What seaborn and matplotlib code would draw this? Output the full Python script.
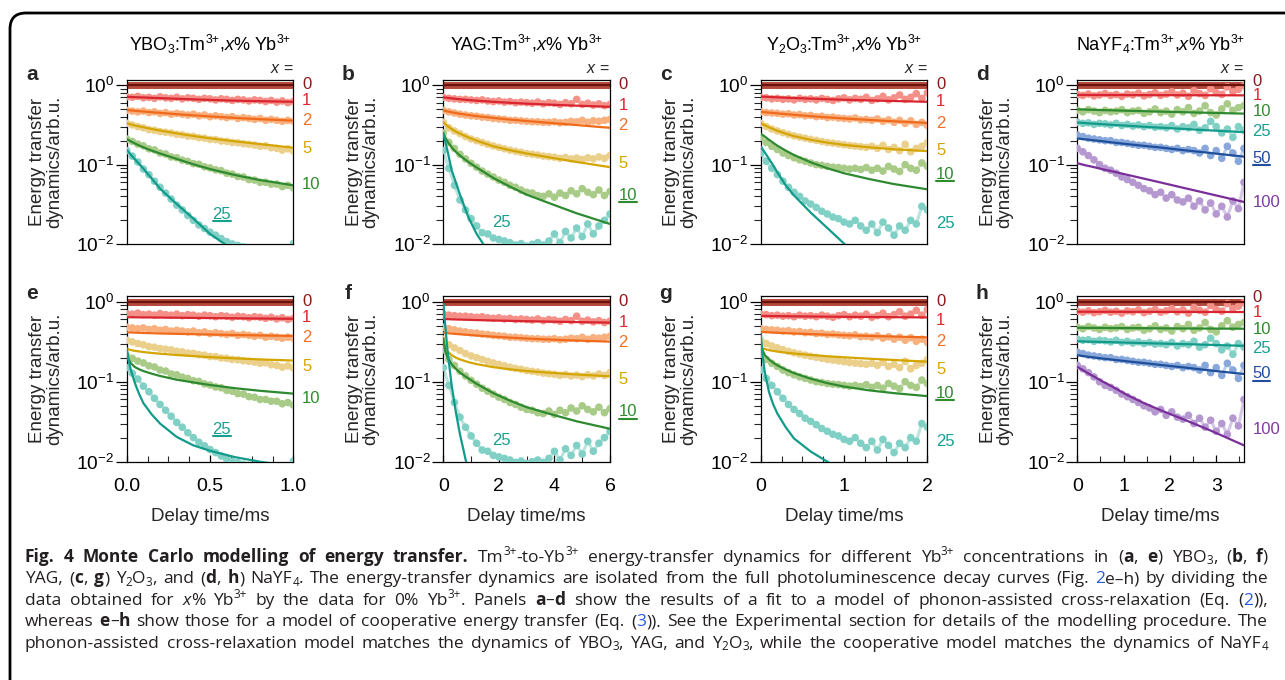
import numpy as np
import pandas as pd
import matplotlib
matplotlib.use("Agg")
import matplotlib.pyplot as plt
import seaborn as sns
from matplotlib.transforms import IdentityTransform, blended_transform_factory
from matplotlib.patches import FancyBboxPatch
from matplotlib.lines import Line2D
from matplotlib.ticker import LogLocator, NullFormatter, MultipleLocator, FixedLocator, FixedFormatter

# ----------------------------------------------------------------- data
MAT_KEYS = ["YBO3", "YAG", "Y2O3", "NaYF4"]
TITLES = ["YBO_{3}:Tm^{3+},*x*% Yb^{3+}", "YAG:Tm^{3+},*x*% Yb^{3+}",
          "Y_{2}O_{3}:Tm^{3+},*x*% Yb^{3+}", "NaYF_{4}:Tm^{3+},*x*% Yb^{3+}"]
T_MAX = [1.0, 6.0, 2.0, 3.6]
CONC = {"YBO3": [1, 2, 5, 10, 25], "YAG": [1, 2, 5, 10, 25],
        "Y2O3": [1, 2, 5, 10, 25], "NaYF4": [1, 10, 25, 50, 100]}
ZERO_LEVEL = 1.0
N_DATA = 31

DATA = {
    "YBO3": {
        1: [0.71, 0.70, 0.72, 0.69, 0.70, 0.68, 0.71, 0.69, 0.68, 0.70, 0.67, 0.69, 0.68, 0.66, 0.68, 0.67, 0.65, 0.67, 0.66, 0.64, 0.66, 0.65, 0.63, 0.65, 0.64, 0.62, 0.64, 0.61, 0.63, 0.60, 0.62],
        2: [0.48, 0.47, 0.46, 0.47, 0.45, 0.46, 0.44, 0.45, 0.43, 0.44, 0.43, 0.42, 0.43, 0.41, 0.42, 0.40, 0.41, 0.40, 0.39, 0.40, 0.38, 0.39, 0.38, 0.37, 0.38, 0.36, 0.37, 0.36, 0.35, 0.36, 0.35],
        5: [0.33, 0.315, 0.30, 0.29, 0.275, 0.27, 0.26, 0.255, 0.25, 0.24, 0.237, 0.228, 0.226, 0.218, 0.215, 0.207, 0.206, 0.198, 0.196, 0.19, 0.188, 0.183, 0.18, 0.176, 0.17, 0.172, 0.163, 0.16, 0.152, 0.158, 0.148],
        10: [0.21, 0.196, 0.181, 0.172, 0.158, 0.153, 0.14, 0.136, 0.125, 0.122, 0.114, 0.11, 0.103, 0.101, 0.094, 0.091, 0.086, 0.084, 0.078, 0.076, 0.071, 0.07, 0.065, 0.064, 0.06, 0.06, 0.057, 0.057, 0.053, 0.055, 0.051],
        25: [0.150, 0.128, 0.108, 0.088, 0.075, 0.062, 0.052, 0.044, 0.037, 0.031, 0.027, 0.023, 0.020, 0.0175, 0.0158, 0.0142, 0.013, 0.0118, 0.0108, 0.0101, 0.0097, 0.0093, 0.009, 0.0088, 0.0086, 0.0084, 0.0083, 0.0082, 0.008, 0.0085, 0.0102],
    },
    "YAG": {
        1: [0.70, 0.68, 0.67, 0.66, 0.66, 0.65, 0.64, 0.65, 0.63, 0.62, 0.63, 0.61, 0.62, 0.60, 0.61, 0.60, 0.59, 0.61, 0.58, 0.60, 0.59, 0.57, 0.60, 0.58, 0.66, 0.57, 0.59, 0.56, 0.58, 0.55, 0.57],
        2: [0.48, 0.46, 0.445, 0.43, 0.42, 0.41, 0.405, 0.395, 0.39, 0.38, 0.375, 0.37, 0.36, 0.36, 0.355, 0.35, 0.345, 0.345, 0.34, 0.34, 0.345, 0.335, 0.34, 0.35, 0.345, 0.36, 0.34, 0.355, 0.35, 0.36, 0.37],
        5: [0.34, 0.29, 0.265, 0.245, 0.225, 0.21, 0.2, 0.19, 0.18, 0.172, 0.165, 0.158, 0.152, 0.147, 0.143, 0.138, 0.135, 0.132, 0.128, 0.126, 0.124, 0.12, 0.123, 0.118, 0.121, 0.116, 0.122, 0.118, 0.125, 0.12, 0.13],
        10: [0.25, 0.19, 0.16, 0.135, 0.118, 0.104, 0.093, 0.083, 0.076, 0.07, 0.064, 0.06, 0.055, 0.052, 0.048, 0.045, 0.044, 0.041, 0.04, 0.043, 0.039, 0.044, 0.041, 0.047, 0.043, 0.05, 0.045, 0.042, 0.048, 0.041, 0.046],
        25: [0.15, 0.09, 0.055, 0.036, 0.027, 0.021, 0.017, 0.014, 0.0135, 0.012, 0.0115, 0.011, 0.0105, 0.0098, 0.0102, 0.0095, 0.01, 0.0105, 0.0098, 0.011, 0.0135, 0.0105, 0.0145, 0.012, 0.016, 0.0125, 0.018, 0.0135, 0.017, 0.02, 0.024],
    },
    "Y2O3": {
        1: [0.70, 0.69, 0.67, 0.68, 0.66, 0.67, 0.65, 0.68, 0.66, 0.67, 0.65, 0.68, 0.66, 0.64, 0.67, 0.69, 0.65, 0.68, 0.66, 0.70, 0.64, 0.67, 0.72, 0.65, 0.69, 0.75, 0.66, 0.70, 0.78, 0.68, 0.80],
        2: [0.46, 0.45, 0.445, 0.44, 0.43, 0.435, 0.42, 0.425, 0.41, 0.415, 0.40, 0.405, 0.39, 0.395, 0.385, 0.38, 0.375, 0.385, 0.365, 0.37, 0.36, 0.375, 0.35, 0.365, 0.34, 0.36, 0.33, 0.355, 0.32, 0.34, 0.31],
        5: [0.33, 0.30, 0.28, 0.265, 0.252, 0.24, 0.23, 0.222, 0.215, 0.208, 0.202, 0.196, 0.19, 0.186, 0.182, 0.178, 0.174, 0.171, 0.168, 0.165, 0.17, 0.16, 0.175, 0.155, 0.165, 0.15, 0.18, 0.145, 0.16, 0.17, 0.19],
        10: [0.22, 0.19, 0.17, 0.155, 0.14, 0.13, 0.122, 0.115, 0.11, 0.105, 0.10, 0.098, 0.095, 0.093, 0.092, 0.09, 0.088, 0.09, 0.087, 0.092, 0.085, 0.09, 0.083, 0.095, 0.088, 0.082, 0.10, 0.09, 0.085, 0.105, 0.095],
        25: [0.14, 0.11, 0.09, 0.075, 0.062, 0.052, 0.045, 0.04, 0.035, 0.032, 0.029, 0.026, 0.024, 0.022, 0.021, 0.019, 0.018, 0.02, 0.017, 0.015, 0.018, 0.014, 0.019, 0.016, 0.013, 0.017, 0.015, 0.02, 0.018, 0.03, 0.027],
    },
    "NaYF4": {
        1: [0.76, 0.74, 0.77, 0.73, 0.75, 0.78, 0.74, 0.76, 0.72, 0.77, 0.75, 0.79, 0.73, 0.76, 0.80, 0.74, 0.77, 0.82, 0.75, 0.79, 0.72, 0.85, 0.78, 0.74, 0.90, 0.80, 0.76, 0.95, 0.82, 0.88, 0.98],
        10: [0.48, 0.46, 0.49, 0.47, 0.45, 0.48, 0.46, 0.47, 0.49, 0.45, 0.47, 0.48, 0.44, 0.46, 0.50, 0.45, 0.47, 0.43, 0.49, 0.46, 0.52, 0.44, 0.47, 0.55, 0.45, 0.42, 0.50, 0.58, 0.48, 0.52, 0.55],
        25: [0.34, 0.33, 0.335, 0.32, 0.33, 0.325, 0.315, 0.33, 0.31, 0.32, 0.305, 0.315, 0.30, 0.31, 0.295, 0.30, 0.29, 0.31, 0.28, 0.30, 0.29, 0.32, 0.27, 0.29, 0.35, 0.30, 0.25, 0.28, 0.22, 0.30, 0.27],
        50: [0.235, 0.225, 0.215, 0.21, 0.205, 0.20, 0.20, 0.19, 0.19, 0.185, 0.18, 0.175, 0.175, 0.17, 0.165, 0.165, 0.16, 0.155, 0.16, 0.15, 0.155, 0.15, 0.14, 0.16, 0.13, 0.15, 0.12, 0.17, 0.14, 0.11, 0.16],
        100: [0.16, 0.145, 0.13, 0.115, 0.10, 0.09, 0.085, 0.078, 0.07, 0.065, 0.06, 0.055, 0.05, 0.047, 0.042, 0.045, 0.038, 0.042, 0.036, 0.034, 0.038, 0.03, 0.035, 0.027, 0.033, 0.024, 0.03, 0.022, 0.035, 0.028, 0.06],
    },
}

# fit curves, sampled at FIT_FRAC * t_max
FIT_FRAC = [0, 0.01, 0.025, 0.05, 0.075, 0.1, 0.15, 0.2, 0.3, 0.4, 0.5, 0.65, 0.8, 1.0]
FIT_PHONON = {
    "YBO3": {
        1: [0.71, 0.709, 0.707, 0.703, 0.70, 0.697, 0.69, 0.684, 0.672, 0.66, 0.65, 0.636, 0.626, 0.615],
        2: [0.485, 0.483, 0.48, 0.474, 0.469, 0.464, 0.455, 0.447, 0.43, 0.416, 0.403, 0.386, 0.372, 0.357],
        5: [0.33, 0.326, 0.32, 0.31, 0.302, 0.295, 0.28, 0.268, 0.247, 0.229, 0.214, 0.196, 0.181, 0.163],
        10: [0.21, 0.204, 0.196, 0.184, 0.174, 0.165, 0.15, 0.138, 0.118, 0.101, 0.088, 0.074, 0.064, 0.055],
        25: [0.153, 0.145, 0.133, 0.116, 0.102, 0.089, 0.067, 0.05, 0.032, 0.021, 0.0135, 0.0082, 0.0048, 0.0024],
    },
    "YAG": {
        1: [0.70, 0.695, 0.69, 0.68, 0.67, 0.662, 0.648, 0.636, 0.615, 0.598, 0.583, 0.565, 0.55, 0.532],
        2: [0.48, 0.474, 0.466, 0.454, 0.444, 0.435, 0.42, 0.407, 0.386, 0.368, 0.353, 0.333, 0.314, 0.29],
        5: [0.34, 0.325, 0.305, 0.28, 0.26, 0.245, 0.22, 0.2, 0.17, 0.152, 0.138, 0.122, 0.108, 0.093],
        10: [0.25, 0.22, 0.195, 0.165, 0.145, 0.13, 0.108, 0.092, 0.068, 0.053, 0.042, 0.032, 0.0245, 0.018],
        25: [0.24, 0.2, 0.15, 0.085, 0.06, 0.042, 0.022, 0.0135, 0.0065, 0.0035, 0.002, 0.001, 0.0006, 0.0003],
    },
    "Y2O3": {
        1: [0.715, 0.714, 0.712, 0.708, 0.704, 0.70, 0.693, 0.686, 0.674, 0.663, 0.653, 0.64, 0.629, 0.615],
        2: [0.46, 0.458, 0.455, 0.45, 0.445, 0.44, 0.431, 0.422, 0.406, 0.392, 0.38, 0.364, 0.35, 0.334],
        5: [0.33, 0.323, 0.312, 0.295, 0.28, 0.266, 0.245, 0.228, 0.205, 0.189, 0.177, 0.165, 0.156, 0.148],
        10: [0.245, 0.237, 0.225, 0.205, 0.188, 0.173, 0.15, 0.132, 0.107, 0.09, 0.078, 0.066, 0.057, 0.049],
        25: [0.17, 0.158, 0.142, 0.118, 0.098, 0.08, 0.055, 0.041, 0.025, 0.016, 0.0102, 0.0055, 0.003, 0.0014],
    },
    "NaYF4": {
        1: [0.75, 0.75, 0.75, 0.75, 0.749, 0.749, 0.748, 0.748, 0.747, 0.746, 0.745, 0.744, 0.743, 0.741],
        10: [0.495, 0.494, 0.493, 0.491, 0.489, 0.488, 0.484, 0.481, 0.475, 0.469, 0.463, 0.455, 0.447, 0.437],
        25: [0.338, 0.337, 0.335, 0.332, 0.329, 0.327, 0.322, 0.317, 0.308, 0.299, 0.291, 0.28, 0.269, 0.256],
        50: [0.213, 0.212, 0.21, 0.2075, 0.205, 0.202, 0.197, 0.191, 0.181, 0.172, 0.164, 0.151, 0.14, 0.126],
        100: [0.104, 0.103, 0.101, 0.098, 0.0955, 0.093, 0.0876, 0.0833, 0.0745, 0.0667, 0.0597, 0.0504, 0.0426, 0.034],
    },
}
FIT_COOP = {
    "YBO3": {
        1: [0.64, 0.64, 0.64, 0.639, 0.638, 0.637, 0.636, 0.634, 0.631, 0.628, 0.625, 0.621, 0.617, 0.612],
        2: [0.415, 0.414, 0.413, 0.411, 0.409, 0.407, 0.404, 0.401, 0.397, 0.393, 0.389, 0.384, 0.379, 0.374],
        5: [0.26, 0.254, 0.249, 0.243, 0.239, 0.235, 0.229, 0.224, 0.216, 0.209, 0.203, 0.196, 0.19, 0.184],
        10: [0.245, 0.19, 0.17, 0.152, 0.143, 0.136, 0.126, 0.118, 0.106, 0.098, 0.091, 0.083, 0.077, 0.071],
        25: [0.26, 0.19, 0.14, 0.095, 0.07, 0.054, 0.039, 0.03, 0.0204, 0.016, 0.0137, 0.0114, 0.01, 0.0087],
    },
    "YAG": {
        1: [0.61, 0.608, 0.606, 0.603, 0.60, 0.598, 0.594, 0.59, 0.583, 0.577, 0.571, 0.564, 0.557, 0.548],
        2: [0.41, 0.408, 0.405, 0.40, 0.396, 0.392, 0.385, 0.378, 0.366, 0.356, 0.347, 0.336, 0.327, 0.317],
        5: [0.33, 0.27, 0.24, 0.215, 0.20, 0.19, 0.176, 0.166, 0.152, 0.143, 0.136, 0.129, 0.123, 0.117],
        10: [0.35, 0.25, 0.20, 0.165, 0.145, 0.13, 0.11, 0.094, 0.072, 0.058, 0.048, 0.039, 0.032, 0.0258],
        25: [1.0, 0.55, 0.25, 0.09, 0.042, 0.022, 0.0075, 0.003, 0.0008, 0.0003, 0.0002, 0.0001, 0.0001, 0.0001],
    },
    "Y2O3": {
        1: [0.665, 0.664, 0.664, 0.663, 0.662, 0.661, 0.659, 0.657, 0.654, 0.651, 0.648, 0.645, 0.641, 0.637],
        2: [0.42, 0.419, 0.417, 0.414, 0.412, 0.409, 0.405, 0.401, 0.394, 0.387, 0.381, 0.374, 0.367, 0.359],
        5: [0.27, 0.262, 0.256, 0.248, 0.243, 0.238, 0.231, 0.225, 0.216, 0.208, 0.202, 0.194, 0.187, 0.178],
        10: [0.33, 0.25, 0.215, 0.19, 0.173, 0.16, 0.142, 0.128, 0.109, 0.096, 0.087, 0.078, 0.072, 0.066],
        25: [0.4, 0.22, 0.13, 0.074, 0.052, 0.04, 0.027, 0.0195, 0.0134, 0.01, 0.0078, 0.0058, 0.0046, 0.0036],
    },
    "NaYF4": {
        1: [0.75, 0.75, 0.75, 0.75, 0.75, 0.749, 0.749, 0.749, 0.748, 0.748, 0.747, 0.746, 0.745, 0.744],
        10: [0.472, 0.472, 0.472, 0.471, 0.471, 0.471, 0.47, 0.469, 0.468, 0.467, 0.465, 0.463, 0.462, 0.46],
        25: [0.32, 0.32, 0.319, 0.318, 0.317, 0.316, 0.314, 0.312, 0.308, 0.304, 0.30, 0.295, 0.289, 0.281],
        50: [0.215, 0.213, 0.211, 0.207, 0.204, 0.201, 0.195, 0.19, 0.18, 0.171, 0.162, 0.15, 0.138, 0.125],
        100: [0.153, 0.149, 0.143, 0.133, 0.124, 0.116, 0.101, 0.089, 0.068, 0.054, 0.044, 0.033, 0.0245, 0.016],
    },
}

LETTERS = [["a", "b", "c", "d"], ["e", "f", "g", "h"]]
X_TICKS = [[0.0, 0.5, 1.0], [0, 2, 4, 6], [0, 1, 2], [0, 1, 2, 3]]
X_TICKLABELS = [["0.0", "0.5", "1.0"], ["0", "2", "4", "6"], ["0", "1", "2"], ["0", "1", "2", "3"]]

# label annotations (y in data units, outside the right edge)
LABEL_OUT = {
    "a": {0: 1.0, 1: 0.64, 2: 0.36, 5: 0.16, 10: 0.056},
    "b": {0: 1.0, 1: 0.545, 2: 0.31, 5: 0.103, 10: 0.041},
    "c": {0: 1.0, 1: 0.62, 2: 0.33, 5: 0.15, 10: 0.076, 25: 0.018},
    "d": {0: 1.1, 1: 0.73, 10: 0.46, 25: 0.26, 50: 0.12, 100: 0.033},
    "e": {0: 1.0, 1: 0.64, 2: 0.36, 5: 0.157, 10: 0.062},
    "f": {0: 1.0, 1: 0.545, 2: 0.306, 5: 0.106, 10: 0.042},
    "g": {0: 1.0, 1: 0.59, 2: 0.32, 5: 0.144, 10: 0.072, 25: 0.0177},
    "h": {0: 1.12, 1: 0.74, 10: 0.45, 25: 0.26, 50: 0.125, 100: 0.025},
}
LABEL_IN = {"a": {25: (0.57, 0.024)}, "b": {25: (2.1, 0.0187)},
            "e": {25: (0.57, 0.0253)}, "f": {25: (2.08, 0.0184)}}
UNDERLINED = {"a": 25, "b": 10, "c": 10, "d": 50, "e": 25, "f": 10, "g": 10, "h": 50}

CAPTION = [
    "**Fig. 4 Monte Carlo modelling of energy transfer.** Tm^{3+}-to-Yb^{3+} energy-transfer dynamics for different Yb^{3+} concentrations in (**a**, **e**) YBO_{3}, (**b**, **f**)",
    "YAG, (**c**, **g**) Y_{2}O_{3}, and (**d**, **h**) NaYF_{4}. The energy-transfer dynamics are isolated from the full photoluminescence decay curves (Fig. [2]e\u2013h) by dividing the",
    "data obtained for *x*% Yb^{3+} by the data for 0% Yb^{3+}. Panels **a**\u2013**d** show the results of a fit to a model of phonon-assisted cross-relaxation (Eq. ([2])),",
    "whereas **e**\u2013**h** show those for a model of cooperative energy transfer (Eq. ([3])). See the Experimental section for details of the modelling procedure. The",
    "phonon-assisted cross-relaxation model matches the dynamics of YBO_{3}, YAG, and Y_{2}O_{3}, while the cooperative model matches the dynamics of NaYF_{4}",
]

# ----------------------------------------------------------------- style
LINE_C = {1: "#d9252f", 2: "#f06a1c", 5: "#d4a500", 10: "#2e8a30", 25: "#129a8b",
          50: "#1f4f9a", 100: "#7a2e9a"}
DATA_C = {1: "#f49088", 2: "#f8b07e", 5: "#ebd08c", 10: "#a9cb88", 25: "#80d0c5",
          50: "#88a8dc", 100: "#b598d0"}
TEXT_C = {0: "#8b1a1a", 1: "#e0262e", 2: "#f07025", 5: "#d9a400", 10: "#2e8b2e",
          25: "#15a090", 50: "#1f4e9e", 100: "#7d3aa0"}

W, H, DPI = 1285, 680, 100
sns.set_theme(style="ticks")
PANEL_FONT = ["Liberation Sans", "DejaVu Sans"]
plt.rcParams["font.family"] = PANEL_FONT
plt.rcParams["mathtext.fontset"] = "custom"
plt.rcParams["mathtext.rm"] = "Liberation Sans"
plt.rcParams["mathtext.it"] = "Liberation Sans:italic"
plt.rcParams["mathtext.bf"] = "Liberation Sans:bold"
plt.rcParams["mathtext.sf"] = "Liberation Sans"

fig = plt.figure(figsize=(W / DPI, H / DPI), dpi=DPI)
fig.patch.set_facecolor("white")

AX_LEFT = [126.7, 443.3, 760.7, 1077.3]
AX_W = 166.7
ROW_TB = [(80.0, 244.3), (295.7, 461.7)]
YTOP = [1.155, 1.19]

label_texts = []
for row in range(2):
    top, bot = ROW_TB[row]
    for col in range(4):
        mat = MAT_KEYS[col]
        letter = LETTERS[row][col]
        ax = fig.add_axes([AX_LEFT[col] / W, 1 - bot / H, AX_W / W, (bot - top) / H])
        tmax = T_MAX[col]
        t_data = np.linspace(0, tmax, N_DATA)
        t_fit = np.array(FIT_FRAC) * tmax
        fits = (FIT_PHONON if row == 0 else FIT_COOP)[mat]

        ax.axhline(ZERO_LEVEL, color="#b5493b", lw=5.0, zorder=2)
        for c in CONC[mat]:
            df = pd.DataFrame({"t": t_data, "v": DATA[mat][c]})
            sns.lineplot(data=df, x="t", y="v", ax=ax, color=DATA_C[c], lw=2.2, alpha=0.55,
                         estimator=None, sort=False, legend=False, zorder=2)
            sns.scatterplot(data=df, x="t", y="v", ax=ax, color=DATA_C[c], s=30,
                            edgecolor="none", linewidth=0, legend=False, zorder=3)
        for c in CONC[mat]:
            dff = pd.DataFrame({"t": t_fit, "v": fits[c]})
            sns.lineplot(data=dff, x="t", y="v", ax=ax, color=LINE_C[c], lw=1.6,
                         estimator=None, sort=False, legend=False, zorder=4)
        ax.axhline(ZERO_LEVEL, color="#6b120c", lw=1.6, zorder=5)

        ax.set_yscale("log")
        ax.set_ylim(0.01, YTOP[row])
        ax.set_xlim(0, tmax)
        ax.yaxis.set_major_locator(LogLocator(base=10, numticks=5))
        ax.yaxis.set_minor_locator(LogLocator(base=10, subs=np.arange(2, 10), numticks=20))
        ax.yaxis.set_minor_formatter(NullFormatter())
        ax.tick_params(axis="y", which="major", direction="out", length=8, width=0.9,
                       labelsize=13.8, pad=1, colors="black")
        ax.tick_params(axis="y", which="minor", direction="out", length=4.8, width=0.8)
        ax.set_ylabel("")
        ax.set_xlabel("")
        for sp in ax.spines.values():
            sp.set_visible(True)
            sp.set_linewidth(0.9)
            sp.set_color("black")
        ax.set_facecolor("white")

        if row == 0:
            ax.tick_params(axis="x", which="both", bottom=False, labelbottom=False)
            ax.text(1.0, 1 + 7.3 / (bot - top), "$x$ =", transform=ax.transAxes,
                    ha="right", va="baseline", fontsize=11.5)
            ax.text(-95 / AX_W, 1.0, letter, transform=ax.transAxes, ha="center",
                    va="baseline", fontsize=15, fontweight="bold")
        else:
            ax.xaxis.set_major_locator(FixedLocator(X_TICKS[col]))
            ax.xaxis.set_major_formatter(FixedFormatter(X_TICKLABELS[col]))
            ax.xaxis.set_minor_locator(MultipleLocator([0.125, 1, 0.25, 0.5][col]))
            ax.tick_params(axis="x", which="major", direction="in", length=5, width=0.9,
                           labelsize=14, pad=11.5, colors="black")
            ax.tick_params(axis="x", which="minor", direction="in", length=4, width=0.8)
            ax.set_xlabel("Delay time/ms", fontsize=13.5, labelpad=9.5)
            ax.text(-95 / AX_W, 1 - 3.3 / (bot - top), letter, transform=ax.transAxes,
                    ha="center", va="baseline", fontsize=15, fontweight="bold")

        ax.text(-80.5 / AX_W, 0.5, "Energy transfer\ndynamics/arb.u.", transform=ax.transAxes,
                rotation=90, ha="center", va="center", multialignment="center",
                linespacing=0.97, fontsize=13.5)

        trans = blended_transform_factory(ax.transAxes, ax.transData)
        for c, yv in LABEL_OUT[letter].items():
            t = ax.text(1 + 8.5 / AX_W, yv, str(c), transform=trans, color=TEXT_C[c],
                        fontsize=12, ha="left", va="center", clip_on=False)
            if UNDERLINED[letter] == c:
                label_texts.append((t, TEXT_C[c]))
        for c, (tx, yv) in LABEL_IN.get(letter, {}).items():
            t = ax.text(tx, yv, str(c), transform=ax.transData, color=TEXT_C[c],
                        fontsize=12, ha="center", va="center")
            if UNDERLINED[letter] == c:
                label_texts.append((t, TEXT_C[c]))

# outer rounded frame
frame = FancyBboxPatch((10, -60), 1400, (H - 13) + 60, boxstyle="round,pad=0,rounding_size=16",
                       transform=IdentityTransform(), fill=False, lw=2.0, ec="black")
fig.add_artist(frame)

fig.canvas.draw()
renderer = fig.canvas.get_renderer()

for t, col in label_texts:
    bb = t.get_window_extent(renderer)
    y = bb.y0 + 0.8
    fig.add_artist(Line2D([bb.x0 + 0.5, bb.x1 - 0.5], [y, y], transform=IdentityTransform(),
                          color=col, lw=1.5))


# ----------------------------------------------------------------- rich text helpers
def parse_rich(s):
    words = [[]]
    state = {"b": False, "i": False, "l": False}

    def add(ch, mode):
        if ch == " ":
            if words[-1]:
                words.append([])
            return
        w = words[-1]
        style = (state["b"], state["i"], state["l"], mode)
        if w and w[-1][1] == style:
            w[-1][0] += ch
        else:
            w.append([ch, style])

    i = 0
    while i < len(s):
        if s.startswith("**", i):
            state["b"] = not state["b"]; i += 2; continue
        ch = s[i]
        if ch == "*":
            state["i"] = not state["i"]; i += 1; continue
        if ch == "[":
            state["l"] = True; i += 1; continue
        if ch == "]":
            state["l"] = False; i += 1; continue
        if ch in "^_" and i + 1 < len(s) and s[i + 1] == "{":
            j = s.index("}", i)
            for c2 in s[i + 2:j]:
                add(c2, "sup" if ch == "^" else "sub")
            i = j + 1
            continue
        add(ch, "n")
        i += 1
    return [w for w in words if w]


def make_run(txt, style, size, x, y, family, base_color):
    bold, ital, link, mode = style
    px = size * DPI / 72.0
    fs = size * (0.68 if mode != "n" else 1.0)
    dy = {"n": 0.0, "sup": 0.38 * px, "sub": -0.16 * px}[mode]
    t = fig.text(x, y + dy, txt, transform=IdentityTransform(), fontsize=fs,
                 family=family, fontweight="bold" if bold else "normal",
                 fontstyle="italic" if ital else "normal",
                 color="#2b5ce0" if link else base_color, ha="left", va="baseline")
    return t, dy


def layout_words(words, size, ybase, family, color):
    placed, widths = [], []
    for w in words:
        x = 0.0
        runs = []
        for txt, style in w:
            t, dy = make_run(txt, style, size, x, ybase, family, color)
            wd = t.get_window_extent(renderer).width
            runs.append((t, x, dy))
            x += wd
        placed.append(runs)
        widths.append(x)
    return placed, widths


def space_width(size, family):
    a = fig.text(0, 0, "a a", fontsize=size, family=family, transform=IdentityTransform())
    b = fig.text(0, 0, "aa", fontsize=size, family=family, transform=IdentityTransform())
    sw = a.get_window_extent(renderer).width - b.get_window_extent(renderer).width
    a.remove(); b.remove()
    return sw


# panel titles (centred over the top-row axes)
for col in range(4):
    size = 13.0
    words = parse_rich(TITLES[col])
    placed, widths = layout_words(words, size, 0, PANEL_FONT, "black")
    sw = space_width(size, PANEL_FONT)
    total = sum(widths) + sw * (len(widths) - 1)
    x = AX_LEFT[col] + AX_W / 2 - total / 2
    ybase = H - (ROW_TB[0][0] - 30)
    for runs, wd in zip(placed, widths):
        for t, off, dy in runs:
            t.set_position((x + off, ybase + dy))
        x += wd + sw

# ----------------------------------------------------------------- caption
CAP_FONT = ["Open Sans", "DejaVu Sans"]
CAP_LEFT, CAP_RIGHT = 25.0, 1268.0
CAP_BASE = [561.7, 583.2, 604.7, 626.2, 647.7]

parsed = [parse_rich(s) for s in CAPTION]
size = 12.5
target = CAP_RIGHT - CAP_LEFT
for attempt in range(3):
    sw = space_width(size, CAP_FONT)
    results = [layout_words(ws, size, 0, CAP_FONT, "#231f20") for ws in parsed]
    nat = max(sum(wd) + sw * (len(wd) - 1) for _, wd in results)
    if nat <= target or attempt == 2:
        break
    for placed, _ in results:
        for runs in placed:
            for t, _, _ in runs:
                t.remove()
    size = size * target / nat * 0.995

for li, (placed, widths) in enumerate(results):
    ybase = H - CAP_BASE[li]
    n = len(widths)
    gap = (target - sum(widths)) / (n - 1)
    x = CAP_LEFT
    for runs, wd in zip(placed, widths):
        for t, off, dy in runs:
            t.set_position((x + off, ybase + dy))
        x += wd + gap

fig.savefig("out.png", dpi=DPI, facecolor="white")
